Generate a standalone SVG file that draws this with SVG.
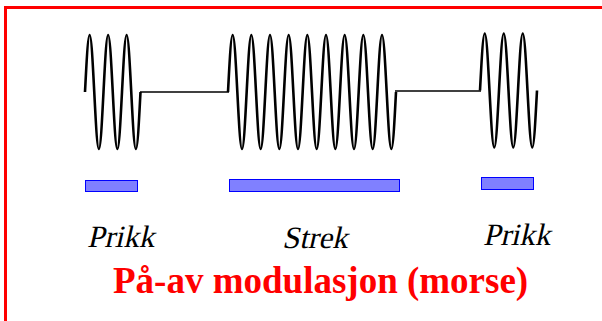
<svg xmlns="http://www.w3.org/2000/svg" width="602" height="321" viewBox="0 0 602 321">
<style>
.wave{fill:none;stroke:#000;stroke-width:2.6;stroke-linejoin:round}
.off{fill:none;stroke:#000;stroke-width:1.6}
.bar{fill:#8080ff;stroke:#0000ff;stroke-width:1}
.lbl{font-family:"Liberation Serif",serif;font-size:31px;fill:#000}
.title{font-family:"Liberation Serif","Times New Roman",serif;font-weight:bold;font-size:37px;fill:#ff0000}
</style>
<rect width="602" height="321" fill="#fff"/>
<rect x="5.5" y="7.5" width="620" height="330" fill="none" stroke="#ff0000" stroke-width="3"/>
<g id="signal">
<path class="wave" d="M85,92 c1.508,-29.2 2.951,-57 4.625,-57 c1.674,0 3.117,27.8 4.625,57 c1.508,29.2 2.951,57 4.625,57 c1.674,0 3.117,-27.8 4.625,-57 c1.508,-29.2 2.951,-57 4.625,-57 c1.674,0 3.117,27.8 4.625,57 c1.508,29.2 2.951,57 4.625,57 c1.674,0 3.117,-27.8 4.625,-57 c1.508,-29.2 2.951,-57 4.625,-57 c1.674,0 3.117,27.8 4.625,57 c1.508,29.2 2.951,57 4.625,57 c1.674,0 3.117,-27.8 4.625,-57"/>
<line class="off" x1="140" y1="92" x2="229" y2="92"/>
<path class="wave" d="M228,92 c1.521,-29.2 2.977,-57 4.667,-57 c1.689,0 3.145,27.8 4.667,57 c1.521,29.2 2.977,57 4.667,57 c1.689,0 3.145,-27.8 4.667,-57 c1.521,-29.2 2.977,-57 4.667,-57 c1.689,0 3.145,27.8 4.667,57 c1.521,29.2 2.977,57 4.667,57 c1.689,0 3.145,-27.8 4.667,-57 c1.521,-29.2 2.977,-57 4.667,-57 c1.689,0 3.145,27.8 4.667,57 c1.521,29.2 2.977,57 4.667,57 c1.689,0 3.145,-27.8 4.667,-57 c1.521,-29.2 2.977,-57 4.667,-57 c1.689,0 3.145,27.8 4.667,57 c1.521,29.2 2.977,57 4.667,57 c1.689,0 3.145,-27.8 4.667,-57 c1.521,-29.2 2.977,-57 4.667,-57 c1.689,0 3.145,27.8 4.667,57 c1.521,29.2 2.977,57 4.667,57 c1.689,0 3.145,-27.8 4.667,-57 c1.521,-29.2 2.977,-57 4.667,-57 c1.689,0 3.145,27.8 4.667,57 c1.521,29.2 2.977,57 4.667,57 c1.689,0 3.145,-27.8 4.667,-57 c1.521,-29.2 2.977,-57 4.667,-57 c1.689,0 3.145,27.8 4.667,57 c1.521,29.2 2.977,57 4.667,57 c1.689,0 3.145,-27.8 4.667,-57 c1.521,-29.2 2.977,-57 4.667,-57 c1.689,0 3.145,27.8 4.667,57 c1.521,29.2 2.977,57 4.667,57 c1.689,0 3.145,-27.8 4.667,-57 c1.521,-29.2 2.977,-57 4.667,-57 c1.689,0 3.145,27.8 4.667,57 c1.521,29.2 2.977,57 4.667,57 c1.689,0 3.145,-27.8 4.667,-57"/>
<line class="off" x1="395" y1="91" x2="481" y2="91"/>
<path class="wave" d="M480,90.5 c1.549,-29.2 3.031,-57 4.75,-57 c1.72,0 3.202,27.8 4.75,57 c1.549,29.2 3.031,57 4.75,57 c1.72,0 3.202,-27.8 4.75,-57 c1.549,-29.2 3.031,-57 4.75,-57 c1.72,0 3.202,27.8 4.75,57 c1.549,29.2 3.031,57 4.75,57 c1.72,0 3.202,-27.8 4.75,-57 c1.549,-29.2 3.031,-57 4.75,-57 c1.72,0 3.202,27.8 4.75,57 c1.549,29.2 3.031,57 4.75,57 c1.72,0 3.202,-27.8 4.75,-57"/>
</g>
<g id="bar-prikk1"><rect class="bar" x="85.5" y="180.5" width="52" height="11"/></g>
<g id="bar-strek"><rect class="bar" x="229.5" y="179.5" width="170" height="12"/></g>
<g id="bar-prikk2"><rect class="bar" x="481.5" y="177.5" width="52" height="12"/></g>
<g id="label-prikk1"><text class="lbl" x="87" y="247" transform="translate(87,247) skewX(-13) translate(-87,-247)">Prikk</text></g>
<g id="label-strek"><text class="lbl" x="282" y="248" transform="translate(282,248) skewX(-13) translate(-282,-248)">Strek</text></g>
<g id="label-prikk2"><text class="lbl" x="483" y="245" transform="translate(483,245) skewX(-13) translate(-483,-245)">Prikk</text></g>
<g id="title"><text class="title" x="113" y="293">På-av modulasjon (morse)</text></g>
</svg>
